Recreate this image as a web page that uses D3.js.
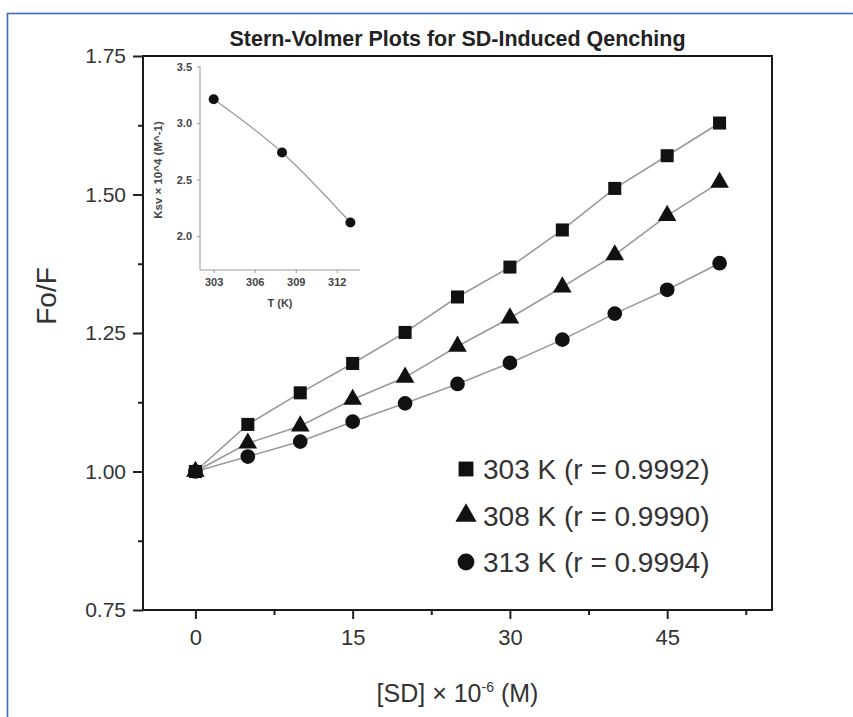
<!DOCTYPE html>
<html lang="en">
<head>
<meta charset="UTF-8">
<title>Stern-Volmer Plots for SD-Induced Qenching</title>
<script src="https://d3js.org/d3.v7.min.js"></script>
<style>
  body { margin: 0; background: #fff; }
  svg { display: block; font-family: "Liberation Sans", Arial, sans-serif; }
</style>
</head>
<body>
<svg width="853" height="717"></svg>
<script>
// [SD] (x 10^-6 M) and Fo/F for each temperature
const concentrations = [0, 5, 10, 15, 20, 25, 30, 35, 40, 45, 50];
const fo303 = [1.000, 1.085, 1.142, 1.195, 1.251, 1.315, 1.369, 1.436, 1.511, 1.570, 1.629];
const fo308 = [1.000, 1.051, 1.082, 1.130, 1.170, 1.226, 1.277, 1.333, 1.391, 1.462, 1.522];
const fo313 = [1.000, 1.027, 1.054, 1.090, 1.123, 1.158, 1.196, 1.238, 1.285, 1.328, 1.376];
const seriesLabels = ["303 K (r = 0.9992)", "308 K (r = 0.9990)", "313 K (r = 0.9994)"];
const xTicks = [0, 15, 30, 45];
const yTicks = [0.75, 1.00, 1.25, 1.50, 1.75];

// inset: Ksv vs temperature
const insetTemps = [303, 308, 313];
const insetKsv = [3.21, 2.74, 2.12];
const insetXTicks = [303, 306, 309, 312];
const insetYTicks = [2.0, 2.5, 3.0, 3.5];

const svg = d3.select("svg");

// blue outer frame (only top/left edges fall inside the picture)
svg.append("rect")
  .attr("x", 7.5).attr("y", 13.5)
  .attr("width", 1000).attr("height", 1000)
  .attr("fill", "none")
  .attr("stroke", "#3e6bbd")
  .attr("stroke-width", 1.6);

const plot = { left: 143, right: 772, top: 56, bottom: 610 };

const x = d3.scaleLinear().domain([-5, 55]).range([plot.left, plot.right]);
const y = d3.scaleLinear().domain([0.75, 1.75]).range([plot.bottom, plot.top]);

const mid = arr => arr.slice(1).map((v, i) => (v + arr[i]) / 2);
const xMinor = mid(xTicks).concat([xTicks[xTicks.length - 1] + 7.5]);
const yMinor = mid(yTicks);

// minor ticks
svg.append("g")
  .attr("transform", `translate(0,${plot.bottom})`)
  .call(d3.axisBottom(x).tickValues(xMinor).tickSize(5).tickFormat(""))
  .call(g => g.select(".domain").remove())
  .call(g => g.selectAll("line").attr("stroke", "#222").attr("stroke-width", 2));

svg.append("g")
  .attr("transform", `translate(${plot.left},0)`)
  .call(d3.axisLeft(y).tickValues(yMinor).tickSize(5).tickFormat(""))
  .call(g => g.select(".domain").remove())
  .call(g => g.selectAll("line").attr("stroke", "#222").attr("stroke-width", 2));

// major ticks + labels
svg.append("g")
  .attr("transform", `translate(0,${plot.bottom})`)
  .call(d3.axisBottom(x).tickValues(xTicks).tickSize(9).tickPadding(10).tickFormat(d3.format("d")))
  .call(g => g.select(".domain").remove())
  .call(g => g.selectAll("line").attr("stroke", "#222").attr("stroke-width", 2))
  .call(g => g.selectAll("text").attr("fill", "#333").style("font-size", "22px"));

svg.append("g")
  .attr("transform", `translate(${plot.left},0)`)
  .call(d3.axisLeft(y).tickValues(yTicks).tickSize(10).tickPadding(7).tickFormat(d3.format(".2f")))
  .call(g => g.select(".domain").remove())
  .call(g => g.selectAll("line").attr("stroke", "#222").attr("stroke-width", 2))
  .call(g => g.selectAll("text").attr("fill", "#333").style("font-size", "21px"));

// plot frame
svg.append("rect")
  .attr("x", plot.left).attr("y", plot.top)
  .attr("width", plot.right - plot.left).attr("height", plot.bottom - plot.top)
  .attr("fill", "none")
  .attr("stroke", "#1a1a1a")
  .attr("stroke-width", 2);

// title and axis titles
svg.append("text")
  .attr("x", (plot.left + plot.right) / 2).attr("y", 46)
  .attr("text-anchor", "middle")
  .attr("textLength", 456).attr("lengthAdjust", "spacingAndGlyphs")
  .style("font-size", "22px").style("font-weight", "bold")
  .attr("fill", "#222")
  .text("Stern-Volmer Plots for SD-Induced Qenching");

svg.append("text")
  .attr("transform", "translate(56,296) rotate(-90)")
  .attr("text-anchor", "middle")
  .style("font-size", "28px")
  .attr("fill", "#333")
  .text("Fo/F");

const xTitle = svg.append("text")
  .attr("x", (plot.left + plot.right) / 2).attr("y", 702)
  .attr("text-anchor", "middle")
  .style("font-size", "25px")
  .attr("fill", "#333");
xTitle.append("tspan").text("[SD] × 10");
xTitle.append("tspan").attr("dy", -10).style("font-size", "14px").text("-6");
xTitle.append("tspan").attr("dy", 10).text(" (M)");

// series
const series = [
  { values: fo303, shape: d3.symbolSquare, size: 170 },
  { values: fo308, shape: d3.symbolTriangle, size: 150 },
  { values: fo313, shape: d3.symbolCircle, size: 170 }
];

const line = d3.line().x(d => x(d[0])).y(d => y(d[1]));

series.forEach(s => {
  const pts = concentrations.map((c, i) => [c, s.values[i]]);
  svg.append("path")
    .datum(pts)
    .attr("d", line)
    .attr("fill", "none")
    .attr("stroke", "#9a9a9a")
    .attr("stroke-width", 1.6);
});

series.slice().reverse().forEach(s => {
  const pts = concentrations.map((c, i) => [c, s.values[i]]);
  svg.append("g").selectAll("path")
    .data(pts)
    .join("path")
    .attr("transform", d => `translate(${x(d[0])},${y(d[1])})`)
    .attr("d", d3.symbol().type(s.shape).size(s.size))
    .attr("fill", "#111");
});

// legend
const legend = svg.append("g");
series.forEach((s, i) => {
  const cy = 469 + i * 46.5;
  legend.append("path")
    .attr("transform", `translate(466,${cy})`)
    .attr("d", d3.symbol().type(s.shape).size(s.size * 1.3))
    .attr("fill", "#111");
  legend.append("text")
    .attr("x", 483).attr("y", cy + 10)
    .style("font-size", "28px")
    .attr("fill", "#333")
    .text(seriesLabels[i]);
});

// inset chart
const ix = d3.scaleLinear().domain([302, 313.7]).range([200, 360]);
const iy = d3.scaleLinear().domain([1.7, 3.5]).range([270, 66.5]);

const inset = svg.append("g");

inset.append("g")
  .attr("transform", "translate(0,270)")
  .call(d3.axisBottom(ix).tickValues(insetXTicks).tickSize(3).tickPadding(5).tickFormat(d3.format("d")))
  .call(g => g.select(".domain").attr("stroke", "#999").attr("d", "M200,0H360"))
  .call(g => g.selectAll("line").attr("stroke", "#999"))
  .call(g => g.selectAll("text").attr("fill", "#444").style("font-size", "11px").style("font-weight", "bold"));

inset.append("g")
  .attr("transform", "translate(200,0)")
  .call(d3.axisLeft(iy).tickValues(insetYTicks).tickSize(3).tickPadding(5).tickFormat(d3.format(".1f")))
  .call(g => g.select(".domain").attr("stroke", "#999").attr("d", "M0,66H0V270"))
  .call(g => g.selectAll("line").attr("stroke", "#999"))
  .call(g => g.selectAll("text").attr("fill", "#444").style("font-size", "11px").style("font-weight", "bold"));

inset.append("text")
  .attr("x", 280).attr("y", 307)
  .attr("text-anchor", "middle")
  .style("font-size", "11px").style("font-weight", "bold")
  .attr("fill", "#444")
  .text("T (K)");

inset.append("text")
  .attr("transform", "translate(162,170) rotate(-90)")
  .attr("text-anchor", "middle")
  .style("font-size", "11.5px").style("font-weight", "bold")
  .attr("fill", "#444")
  .text("Ksv × 10^4 (M^-1)");

const insetPts = insetTemps.map((t, i) => [t, insetKsv[i]]);
inset.append("path")
  .datum(insetPts)
  .attr("d", d3.line().x(d => ix(d[0])).y(d => iy(d[1])).curve(d3.curveNatural))
  .attr("fill", "none")
  .attr("stroke", "#999")
  .attr("stroke-width", 1.3);

inset.selectAll("circle")
  .data(insetPts)
  .join("circle")
  .attr("cx", d => ix(d[0]))
  .attr("cy", d => iy(d[1]))
  .attr("r", 5)
  .attr("fill", "#111");
</script>
</body>
</html>
